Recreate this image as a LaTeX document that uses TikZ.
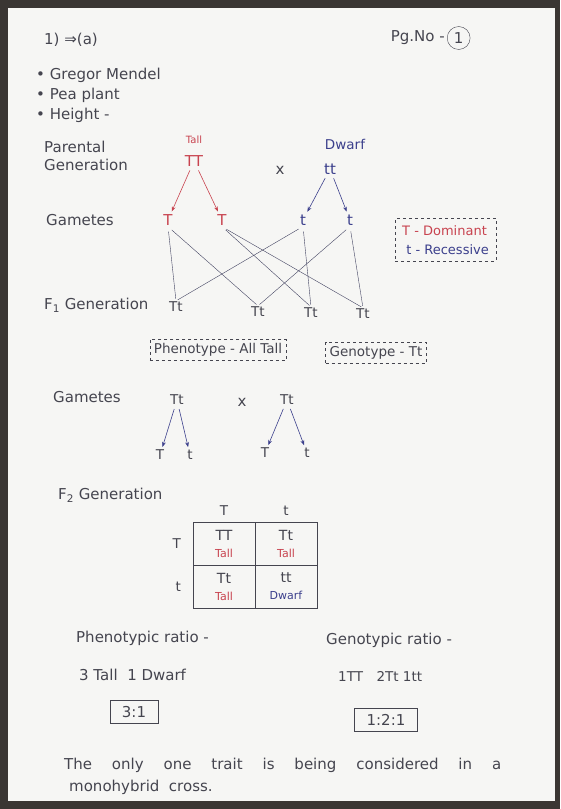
\documentclass[tikz,border=0pt]{standalone}
\usepackage{xcolor}
\usepackage{fontspec}
\setmainfont{DejaVu Sans}
\usepackage{tikz}
\usetikzlibrary{arrows.meta,positioning,calc}
\definecolor{inkred}{HTML}{C8434F}
\definecolor{inkblue}{HTML}{3B3F8C}
\definecolor{pencil}{HTML}{45454F}
\definecolor{paper}{HTML}{F6F6F4}
\definecolor{cloth}{HTML}{3A3633}

\begin{document}
\begin{tikzpicture}[x=1pt, y=-1pt,
  txt/.style={inner sep=1pt, text=pencil, font=\fontsize{15}{18}\selectfont},
  small/.style={txt, font=\fontsize{13.5}{16}\selectfont},
  tiny/.style={txt, font=\fontsize{10}{11}\selectfont},
  arrred/.style={-{Stealth[length=5pt]}, inkred, semithick, shorten <=3pt, shorten >=2pt},
  arrblue/.style={-{Stealth[length=5pt]}, inkblue, semithick, shorten <=3pt, shorten >=2pt},
  link/.style={pencil!70!inkblue, thin, shorten <=5pt, shorten >=2pt},
  dashbox/.style={draw=pencil, dashed, inner xsep=4pt, inner ysep=4pt},
  ratiobox/.style={draw=pencil, semithick, inner xsep=12pt, inner ysep=6pt},
  cell/.style={draw=pencil, semithick, minimum width=62pt, minimum height=43pt, align=center, inner sep=1pt, outer sep=0pt, text=pencil, font=\fontsize{14}{15}\selectfont}
]
  \fill[cloth] (0,0) rectangle (560,809);
  \fill[paper] (8,8) rectangle (555,801);
  \useasboundingbox (0,0) rectangle (560,809);

  \node[txt, anchor=west] (qno) at (43,40) {1) ⇒(a)};
  \node[txt, anchor=east] (pg) at (446,38) {Pg.No -};
  \node[txt, draw=pencil, circle, inner sep=3pt, right=1pt of pg] (pgnum) {1};

  \node[txt, anchor=west] (b1) at (35,75) {\textbullet\ Gregor Mendel};
  \node[txt, anchor=west] (b2) at (35,95) {\textbullet\ Pea plant};
  \node[txt, anchor=west] (b3) at (35,115) {\textbullet\ Height -};

  \node[txt, anchor=west, align=left] (parlab) at (43,156) {Parental\\Generation};
  \node[tiny, text=inkred] (tall) at (194,140) {Tall};
  \node[txt, text=inkred] (TT) at (194,161) {TT};
  \node[txt] (cross1) at (280,170) {x};
  \node[small, text=inkblue] (dwarf) at (345,144) {Dwarf};
  \node[txt, text=inkblue] (tt) at (330,169) {tt};

  \node[txt, anchor=west] (gamlab) at (45,220) {Gametes};
  \node[txt, text=inkred] (gT1) at (168,220) {T};
  \node[txt, text=inkred] (gT2) at (222,220) {T};
  \node[txt, text=inkblue] (gt1) at (303,220) {t};
  \node[txt, text=inkblue] (gt2) at (350,220) {t};

  \draw[arrred] (TT) -- (gT1);
  \draw[arrred] (TT) -- (gT2);
  \draw[arrblue] (tt) -- (gt1);
  \draw[arrblue] (tt) -- (gt2);

  \node[dashbox, anchor=north west, align=left, inner xsep=7pt, inner ysep=7pt, font=\fontsize{13}{19}\selectfont] (legend) at (395,218) {\textcolor{inkred}{T - Dominant}\\\ \textcolor{inkblue}{t - Recessive}};

  \node[txt, anchor=west] (f1lab) at (43,305) {F\textsubscript{1} Generation};
  \node[small] (f1a) at (176,307) {Tt};
  \node[small] (f1b) at (258,312) {Tt};
  \node[small] (f1c) at (311,313) {Tt};
  \node[small] (f1d) at (363,314) {Tt};

  \draw[link] (gT1.south) -- (f1a.north);
  \draw[link] (gt1.south) -- (f1a.north);
  \draw[link] (gT1.south) -- (f1b.north);
  \draw[link] (gt2.south) -- (f1b.north);
  \draw[link] (gT2.south) -- (f1c.north);
  \draw[link] (gt1.south) -- (f1c.north);
  \draw[link] (gT2.south) -- (f1d.north);
  \draw[link] (gt2.south) -- (f1d.north);

  \node[small, dashbox] (pheno) at (218,350) {Phenotype - All Tall};
  \node[small, dashbox] (geno) at (376,353) {Genotype - Tt};

  \node[txt, anchor=west] (gamlab2) at (52,397) {Gametes};
  \node[small] (p1) at (177,400) {Tt};
  \node[txt] (cross2) at (242,402) {x};
  \node[small] (p2) at (287,400) {Tt};
  \node[small] (p1T) at (160,455) {T};
  \node[small] (p1t) at (190,455) {t};
  \node[small] (p2T) at (265,453) {T};
  \node[small] (p2t) at (307,453) {t};

  \draw[arrblue] (p1) -- (p1T);
  \draw[arrblue] (p1) -- (p1t);
  \draw[arrblue] (p2) -- (p2T);
  \draw[arrblue] (p2) -- (p2t);

  \node[txt, anchor=west] (f2lab) at (57,495) {F\textsubscript{2} Generation};

  \node[cell, anchor=north west] (c11) at (193,522) {TT\\[2pt]\textcolor{inkred}{\fontsize{11}{12}\selectfont Tall}};
  \node[cell, right=0pt of c11] (c12) {Tt\\[2pt]\textcolor{inkred}{\fontsize{11}{12}\selectfont Tall}};
  \node[cell, below=0pt of c11] (c21) {Tt\\[2pt]\textcolor{inkred}{\fontsize{11}{12}\selectfont Tall}};
  \node[cell, right=0pt of c21] (c22) {tt\\[2pt]\textcolor{inkblue}{\fontsize{11}{12}\selectfont Dwarf}};
  \node[small, above=5pt of c11] (hT) {T};
  \node[small, above=5pt of c12] (ht) {t};
  \node[small, left=11pt of c11] (rT) {T};
  \node[small, left=11pt of c21] (rt) {t};

  \node[txt, anchor=west] (phenlab) at (75,638) {Phenotypic ratio -};
  \node[txt, anchor=west] (phenval) at (78,675) {3 Tall\ \ 1 Dwarf};
  \node[txt, ratiobox] (phenbox) at (134,712) {3:1};
  \node[txt, anchor=west] (genlab) at (325,640) {Genotypic ratio -};
  \node[small, anchor=west] (genval) at (337,676) {1TT\quad 2Tt\ 1tt};
  \node[txt, ratiobox] (genbox) at (386,720) {1:2:1};

  \node[txt, anchor=west] (note1) at (63,765) {\makebox[437pt][s]{The only one trait is being considered in a}};
  \node[txt, anchor=west] (note2) at (68,787) {monohybrid\ \ cross.};
\end{tikzpicture}
\end{document}
